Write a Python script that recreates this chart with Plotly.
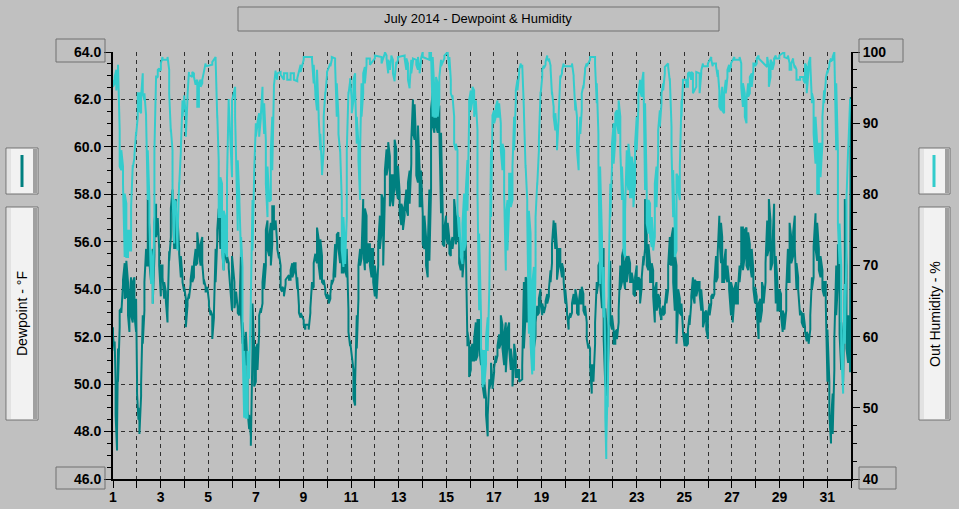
import plotly.graph_objects as go

# July 2014 readings: (day of month, low, high)
dew_readings = [
    (1.00, 52.0, 52.4), (1.07, 51.4, 51.8), (1.11, 48.7, 50.1), (1.17, 47.2, 48.0), (1.21, 50.1, 51.5),
    (1.28, 52.4, 53.1), (1.35, 53.0, 53.2), (1.42, 54.2, 54.4), (1.49, 53.6, 55.1), (1.56, 53.7, 55.2),
    (1.63, 52.9, 54.3), (1.69, 52.2, 53.6), (1.76, 52.9, 54.5), (1.83, 52.6, 54.3), (1.90, 52.9, 54.5),
    (1.97, 52.2, 53.6), (2.01, 49.6, 50.2), (2.07, 48.5, 49.0), (2.11, 47.9, 48.4), (2.18, 49.5, 50.0),
    (2.25, 51.7, 52.9), (2.32, 53.1, 54.3), (2.39, 55.0, 55.7), (2.46, 55.0, 57.8), (2.53, 55.1, 56.5),
    (2.60, 54.3, 55.1), (2.67, 53.4, 55.7), (2.74, 55.4, 56.8), (2.81, 56.2, 57.6), (2.88, 56.7, 57.0),
    (2.94, 55.0, 55.7), (3.01, 53.7, 55.0), (3.08, 54.5, 55.0), (3.15, 53.6, 54.3), (3.22, 53.5, 53.9),
    (3.29, 52.6, 53.0), (3.36, 55.2, 55.6), (3.43, 56.2, 57.4), (3.50, 57.8, 58.2), (3.57, 55.7, 57.4),
    (3.64, 55.7, 57.8), (3.71, 56.8, 57.0), (3.78, 55.5, 55.7), (3.85, 54.5, 55.4), (3.92, 54.3, 54.5),
    (3.99, 53.9, 54.1), (4.06, 52.4, 53.6), (4.13, 53.3, 53.5), (4.19, 53.6, 53.8), (4.26, 54.2, 54.4),
    (4.33, 54.3, 55.0), (4.40, 54.5, 55.1), (4.47, 55.0, 55.7), (4.54, 55.1, 56.4), (4.61, 55.5, 55.7),
    (4.68, 55.0, 55.9), (4.75, 55.1, 56.2), (4.82, 54.2, 54.4), (4.89, 53.9, 54.1), (4.96, 53.9, 54.1),
    (5.03, 53.3, 53.5), (5.10, 52.9, 53.1), (5.17, 51.9, 52.9), (5.24, 52.8, 53.0), (5.31, 54.3, 55.7),
    (5.38, 56.1, 56.5), (5.44, 57.1, 57.4), (5.51, 55.7, 57.1), (5.58, 55.8, 56.0), (5.65, 54.8, 55.7),
    (5.72, 55.4, 56.2), (5.79, 55.1, 55.4), (5.86, 54.9, 55.1), (6.00, 53.1, 55.4), (6.10, 53.2, 54.3),
    (6.17, 53.7, 53.9), (6.24, 53.0, 53.2), (6.31, 52.9, 53.1), (6.38, 52.9, 55.7), (6.44, 51.7, 52.6),
    (6.51, 50.9, 51.7), (6.58, 50.8, 52.2), (6.65, 48.9, 50.8), (6.72, 48.1, 48.7), (6.79, 47.4, 47.8),
    (6.86, 51.5, 53.4), (6.93, 49.9, 51.5), (7.00, 50.1, 51.5), (7.07, 50.6, 51.7), (7.14, 52.2, 52.9),
    (7.21, 53.0, 53.2), (7.28, 53.4, 54.3), (7.35, 54.0, 55.1), (7.42, 55.0, 56.5), (7.49, 55.7, 56.9),
    (7.56, 55.4, 56.2), (7.63, 55.0, 56.8), (7.69, 55.9, 57.5), (7.76, 56.5, 57.5), (7.83, 56.7, 56.9),
    (7.90, 55.7, 55.9), (7.97, 55.3, 55.5), (8.04, 54.0, 55.0), (8.11, 53.9, 54.1), (8.18, 53.7, 54.0),
    (8.25, 54.2, 54.4), (8.39, 54.4, 54.6), (8.46, 54.4, 54.8), (8.53, 54.5, 55.1), (8.60, 54.7, 55.1),
    (8.67, 54.9, 55.1), (8.74, 54.0, 54.5), (8.81, 53.0, 53.3), (8.88, 52.8, 53.0), (9.01, 52.5, 52.7),
    (9.08, 52.3, 52.5), (9.22, 52.3, 52.5), (9.29, 53.0, 53.2), (9.36, 54.0, 54.3), (9.43, 54.1, 55.1),
    (9.50, 55.3, 55.5), (9.57, 55.1, 56.6), (9.64, 55.0, 56.1), (9.71, 54.4, 56.1), (9.78, 54.3, 55.4),
    (9.85, 54.2, 54.4), (9.92, 53.8, 54.0), (9.99, 53.6, 53.8), (10.06, 53.4, 53.7), (10.13, 53.6, 53.8),
    (10.19, 54.2, 54.4), (10.26, 54.4, 54.6), (10.33, 54.5, 55.9), (10.40, 56.1, 56.3), (10.47, 55.7, 56.4),
    (10.54, 55.1, 56.2), (10.61, 54.7, 55.7), (10.68, 54.7, 55.1), (10.75, 54.8, 55.7), (10.82, 54.5, 55.7),
    (10.89, 52.2, 53.1), (10.96, 51.6, 51.8), (11.10, 49.4, 50.6), (11.17, 49.1, 50.1), (11.24, 51.5, 52.9),
    (11.31, 53.6, 55.0), (11.38, 55.0, 55.7), (11.44, 55.3, 55.5), (11.51, 55.7, 57.8), (11.58, 54.8, 57.4),
    (11.65, 55.1, 57.1), (11.72, 55.2, 55.9), (11.79, 55.0, 55.9), (11.86, 54.5, 55.7), (11.93, 54.3, 55.7),
    (12.00, 53.7, 55.0), (12.07, 53.6, 54.3), (12.14, 55.0, 55.9), (12.21, 55.7, 57.1), (12.28, 56.4, 58.0),
    (12.35, 55.0, 57.8), (12.42, 57.9, 59.0), (12.49, 58.8, 59.9), (12.56, 59.2, 60.2), (12.63, 57.5, 59.6),
    (12.69, 57.8, 58.8), (12.76, 57.5, 58.8), (12.83, 58.5, 60.3), (12.90, 58.2, 59.9), (12.97, 57.8, 59.2),
    (13.04, 57.2, 58.1), (13.11, 56.7, 57.6), (13.18, 56.5, 57.4), (13.25, 57.1, 57.5), (13.32, 57.4, 58.2),
    (13.39, 57.1, 58.5), (13.46, 57.6, 59.0), (13.53, 59.3, 60.3), (13.60, 60.6, 62.0), (13.67, 60.3, 61.8),
    (13.74, 58.8, 59.9), (13.81, 58.5, 60.9), (13.88, 57.5, 59.0), (13.94, 57.5, 59.0), (14.01, 55.9, 57.2),
    (14.08, 55.7, 57.1), (14.15, 55.0, 56.2), (14.22, 54.5, 55.7), (14.29, 55.2, 58.2), (14.36, 58.2, 61.6),
    (14.43, 60.9, 62.3), (14.50, 60.6, 61.7), (14.57, 60.9, 61.3), (14.64, 60.6, 61.7), (14.71, 60.6, 61.7),
    (14.78, 57.2, 60.6), (14.85, 55.9, 57.2), (14.92, 55.8, 56.6), (14.99, 56.2, 57.1), (15.06, 55.9, 56.8),
    (15.13, 55.5, 56.1), (15.19, 55.4, 55.9), (15.26, 55.7, 56.2), (15.33, 56.2, 57.8), (15.40, 55.9, 57.1),
    (15.47, 56.2, 57.1), (15.54, 55.1, 55.9), (15.61, 54.8, 55.4), (15.68, 54.5, 54.8), (15.75, 55.4, 56.2),
    (15.82, 55.8, 56.0), (15.89, 51.6, 52.2), (15.96, 50.3, 51.7), (16.03, 50.6, 51.5), (16.10, 51.0, 51.7),
    (16.17, 51.0, 51.9), (16.24, 51.0, 52.6), (16.31, 51.2, 52.7), (16.38, 51.6, 52.7), (16.46, 50.8, 51.5),
    (16.53, 49.9, 50.8), (16.60, 49.4, 50.1), (16.67, 48.7, 49.4), (16.74, 47.8, 48.7), (16.81, 49.8, 50.2),
    (16.88, 50.1, 50.9), (16.94, 49.8, 50.1), (17.01, 50.5, 50.7), (17.08, 50.9, 51.2), (17.15, 51.2, 51.6),
    (17.22, 51.5, 52.1), (17.29, 51.7, 52.9), (17.36, 51.5, 52.5), (17.43, 50.8, 52.1), (17.50, 50.5, 52.6),
    (17.57, 51.7, 52.3), (17.64, 51.5, 52.6), (17.71, 50.6, 51.5), (17.78, 49.9, 50.9), (17.85, 50.9, 51.7),
    (17.92, 50.3, 51.2), (17.99, 50.3, 50.6), (18.06, 50.1, 50.6), (18.19, 50.2, 50.8), (18.26, 51.5, 54.3),
    (18.33, 52.9, 54.5), (18.40, 52.6, 54.4), (18.47, 53.4, 54.5), (18.54, 52.9, 54.0), (18.61, 50.8, 52.2),
    (18.68, 51.5, 52.9), (18.75, 52.0, 52.6), (18.82, 52.9, 53.3), (18.89, 53.0, 53.6), (18.96, 53.4, 54.0),
    (19.03, 52.9, 53.4), (19.10, 53.0, 53.1), (19.17, 53.3, 53.5), (19.24, 53.4, 53.8), (19.31, 53.7, 54.0),
    (19.38, 54.3, 54.8), (19.44, 55.1, 55.9), (19.51, 56.6, 56.9), (19.58, 55.7, 56.8), (19.65, 54.4, 55.7),
    (19.72, 55.0, 55.7), (19.79, 55.0, 55.7), (19.86, 54.5, 55.1), (19.93, 54.3, 54.8), (20.00, 53.4, 54.0),
    (20.07, 53.0, 53.2), (20.14, 52.3, 52.7), (20.21, 52.8, 53.0), (20.28, 53.0, 53.4), (20.35, 53.4, 53.8),
    (20.42, 53.4, 54.0), (20.49, 53.0, 53.6), (20.56, 52.9, 53.4), (20.63, 53.4, 54.0), (20.69, 53.4, 54.1),
    (20.76, 53.1, 53.8), (20.83, 52.9, 53.3), (20.90, 51.9, 52.6), (20.97, 51.5, 51.7), (21.04, 50.8, 51.5),
    (21.11, 49.6, 50.8), (21.18, 50.1, 50.8), (21.25, 51.7, 52.6), (21.32, 53.8, 54.3), (21.39, 54.3, 55.0),
    (21.46, 54.3, 55.2), (21.54, 53.2, 55.7), (21.61, 51.9, 55.7), (21.68, 49.9, 53.2), (21.75, 49.5, 52.1),
    (21.82, 51.7, 53.3), (21.89, 52.6, 55.2), (21.96, 52.3, 52.9), (22.03, 51.7, 52.3), (22.10, 51.7, 52.2),
    (22.17, 51.9, 52.3), (22.24, 52.6, 53.1), (22.31, 54.0, 55.0), (22.38, 54.3, 55.4), (22.44, 54.5, 55.7),
    (22.51, 54.0, 55.1), (22.58, 54.3, 55.4), (22.65, 54.8, 55.4), (22.72, 54.3, 55.1), (22.79, 54.3, 54.7),
    (22.86, 53.8, 54.3), (22.93, 53.7, 54.5), (23.00, 54.0, 55.0), (23.07, 54.0, 54.5), (23.14, 53.4, 54.4),
    (23.21, 54.1, 54.5), (23.28, 55.0, 55.4), (23.35, 55.7, 57.8), (23.42, 55.0, 56.8), (23.49, 54.8, 55.9),
    (23.56, 54.3, 55.1), (23.63, 54.3, 55.1), (23.69, 53.7, 54.8), (23.76, 52.6, 54.0), (23.83, 53.1, 54.3),
    (23.90, 53.3, 53.8), (23.97, 53.0, 53.6), (24.04, 52.7, 53.1), (24.11, 52.9, 53.3), (24.18, 53.0, 53.3),
    (24.25, 53.4, 54.0), (24.32, 54.0, 55.0), (24.39, 55.1, 56.2), (24.46, 55.0, 56.2), (24.53, 54.3, 56.6),
    (24.60, 53.1, 55.5), (24.67, 51.7, 55.0), (24.74, 53.4, 54.0), (24.81, 53.0, 53.6), (24.88, 52.9, 53.4),
    (24.94, 52.2, 52.3), (25.01, 51.6, 52.1), (25.08, 51.6, 52.1), (25.15, 51.7, 52.3), (25.22, 52.5, 52.9),
    (25.29, 53.4, 53.7), (25.36, 53.7, 54.5), (25.43, 53.4, 54.4), (25.50, 53.7, 54.3), (25.57, 54.0, 54.3),
    (25.64, 53.8, 54.3), (25.71, 53.1, 54.0), (25.78, 52.4, 53.1), (25.85, 52.7, 53.0), (25.92, 52.3, 53.1),
    (25.99, 51.9, 52.9), (26.06, 52.9, 53.4), (26.13, 53.4, 53.7), (26.19, 53.6, 53.8), (26.26, 53.8, 54.3),
    (26.33, 54.3, 55.4), (26.40, 54.5, 55.5), (26.47, 56.2, 57.1), (26.54, 55.1, 56.8), (26.59, 54.3, 56.2),
    (26.67, 54.3, 55.2), (26.74, 54.5, 55.7), (26.81, 54.3, 55.0), (26.88, 54.0, 54.3), (26.96, 52.9, 54.3),
    (27.03, 52.6, 54.0), (27.10, 53.6, 54.0), (27.17, 53.4, 54.3), (27.25, 53.4, 54.0), (27.32, 54.3, 55.0),
    (27.39, 55.1, 56.6), (27.46, 54.8, 56.6), (27.54, 55.4, 56.5), (27.61, 55.0, 56.6), (27.68, 54.8, 56.4),
    (27.75, 55.1, 55.9), (27.83, 54.5, 55.7), (27.90, 54.0, 54.8), (27.97, 53.4, 54.1), (28.04, 53.0, 53.7),
    (28.12, 51.9, 53.4), (28.19, 52.6, 53.6), (28.26, 53.1, 54.3), (28.33, 53.4, 54.0), (28.41, 54.3, 55.1),
    (28.48, 55.4, 56.9), (28.55, 55.7, 57.8), (28.62, 54.8, 56.9), (28.70, 55.1, 55.9), (28.77, 56.2, 57.6),
    (28.84, 53.4, 55.4), (28.91, 53.1, 54.3), (28.99, 53.1, 54.0), (29.06, 52.9, 53.8), (29.13, 52.2, 53.1),
    (29.20, 52.3, 52.9), (29.28, 53.1, 54.0), (29.35, 54.3, 55.7), (29.42, 54.3, 56.8), (29.49, 55.1, 56.2),
    (29.57, 55.4, 56.4), (29.64, 55.7, 57.1), (29.71, 54.0, 55.1), (29.78, 54.0, 54.5), (29.86, 52.9, 53.1),
    (29.93, 52.6, 53.0), (30.00, 52.4, 53.0), (30.07, 52.2, 52.4), (30.14, 51.8, 52.2), (30.22, 51.7, 52.0),
    (30.29, 52.3, 52.9), (30.36, 54.0, 54.5), (30.43, 54.5, 55.8), (30.51, 55.7, 57.2), (30.58, 55.2, 56.8),
    (30.65, 54.8, 55.7), (30.72, 54.5, 55.4), (30.80, 54.0, 54.8), (30.87, 53.7, 54.3), (30.94, 53.4, 54.3),
    (31.01, 50.1, 52.3), (31.09, 48.7, 50.1), (31.16, 47.5, 48.4), (31.23, 47.9, 49.6), (31.30, 50.6, 51.9),
    (31.38, 52.9, 55.0), (31.45, 54.3, 55.9), (31.52, 52.1, 55.4), (31.59, 50.6, 52.6), (31.67, 50.1, 51.7),
    (31.74, 54.3, 57.8), (31.81, 51.5, 55.0), (31.88, 50.9, 52.9), (31.96, 50.5, 51.8), (31.99, 61.9, 62.1),
]

hum_readings = [
    (1.00, 95.1, 96.1), (1.07, 95.6, 96.5), (1.14, 94.6, 97.5), (1.21, 97.5, 98.2), (1.28, 83.9, 89.0),
    (1.35, 83.4, 86.2), (1.42, 81.5, 83.9), (1.49, 71.2, 80.1), (1.56, 71.2, 78.7), (1.63, 71.2, 74.9),
    (1.69, 72.1, 74.9), (1.76, 72.1, 78.2), (1.83, 83.7, 84.1), (1.90, 85.1, 85.5), (1.97, 88.3, 88.7),
    (2.04, 90.9, 94.2), (2.11, 91.8, 94.2), (2.18, 91.4, 93.7), (2.25, 94.2, 97.0), (2.32, 93.2, 94.2),
    (2.39, 90.7, 91.1), (2.46, 79.2, 86.2), (2.53, 75.9, 79.2), (2.60, 67.4, 72.1), (2.67, 64.6, 69.8),
    (2.74, 76.8, 86.2), (2.81, 96.3, 96.7), (2.88, 96.5, 97.5), (2.94, 97.3, 97.7), (3.01, 97.5, 98.4),
    (3.08, 98.9, 99.3), (3.29, 98.9, 99.3), (3.36, 94.2, 97.5), (3.43, 88.8, 89.2), (3.50, 80.1, 86.2),
    (3.57, 73.1, 79.2), (3.64, 78.5, 78.9), (3.71, 72.1, 74.0), (3.78, 81.3, 81.7), (3.85, 86.0, 86.4),
    (3.92, 90.9, 93.2), (3.99, 93.5, 93.9), (4.06, 88.1, 90.9), (4.13, 93.5, 93.9), (4.19, 96.8, 97.2),
    (4.33, 96.5, 97.2), (4.40, 96.5, 97.0), (4.47, 95.4, 95.8), (4.54, 92.3, 96.1), (4.61, 92.3, 95.6),
    (4.68, 95.1, 96.1), (4.75, 95.6, 96.1), (4.89, 98.0, 98.4), (5.17, 98.2, 98.6), (5.31, 98.9, 99.3),
    (5.38, 90.7, 91.1), (5.44, 76.8, 84.8), (5.51, 76.8, 82.4), (5.58, 72.1, 81.5), (5.65, 69.3, 77.7),
    (5.72, 72.1, 76.8), (5.79, 71.2, 82.4), (5.86, 93.0, 93.4), (6.00, 82.4, 93.2), (6.13, 90.9, 95.1),
    (6.24, 74.9, 84.8), (6.31, 79.0, 79.4), (6.38, 71.2, 74.0), (6.44, 59.0, 69.8), (6.51, 48.6, 58.0),
    (6.58, 48.6, 53.3), (6.65, 48.6, 58.0), (6.72, 54.1, 54.5), (6.79, 64.9, 65.3), (6.86, 72.1, 79.2),
    (6.93, 82.7, 83.1), (7.00, 88.1, 90.0), (7.07, 89.8, 90.2), (7.14, 88.1, 91.4), (7.21, 90.7, 91.1),
    (7.28, 93.2, 95.1), (7.35, 88.5, 92.8), (7.42, 81.5, 87.6), (7.49, 76.8, 83.9), (7.56, 79.0, 79.4),
    (7.63, 79.2, 86.2), (7.69, 83.4, 90.9), (7.76, 94.9, 95.3), (7.83, 97.0, 97.4), (7.90, 96.1, 97.0),
    (8.04, 96.8, 97.2), (8.18, 96.1, 97.0), (8.32, 96.1, 97.0), (8.46, 96.1, 97.0), (8.60, 96.1, 97.0),
    (8.74, 95.9, 96.3), (8.88, 97.2, 98.2), (9.01, 98.9, 99.3), (9.36, 98.9, 99.3), (9.43, 95.6, 98.2),
    (9.50, 94.0, 94.4), (9.57, 91.8, 97.5), (9.64, 90.7, 91.1), (9.71, 86.2, 88.5), (9.78, 82.7, 83.1),
    (9.85, 86.2, 90.9), (9.92, 94.0, 94.4), (9.99, 96.8, 97.2), (10.13, 98.0, 98.4), (10.19, 98.9, 99.3),
    (10.33, 98.2, 99.1), (10.40, 90.9, 95.6), (10.47, 88.5, 90.9), (10.54, 86.0, 86.4), (10.61, 72.1, 79.2),
    (10.68, 69.8, 76.8), (10.75, 70.2, 72.1), (10.82, 76.8, 86.2), (10.89, 94.0, 94.4), (10.96, 95.9, 96.3),
    (11.03, 91.4, 93.2), (11.10, 93.2, 96.1), (11.17, 94.6, 97.0), (11.24, 87.1, 90.9), (11.31, 84.8, 87.1),
    (11.38, 79.2, 86.2), (11.44, 90.9, 95.6), (11.51, 94.2, 97.0), (11.58, 95.6, 97.9), (11.65, 98.2, 99.1),
    (11.79, 98.2, 99.1), (12.00, 99.1, 99.5), (12.28, 98.4, 99.3), (12.42, 99.8, 100.0), (12.49, 99.1, 99.5),
    (12.56, 97.0, 98.9), (12.63, 97.5, 98.4), (12.69, 99.1, 99.5), (12.76, 97.0, 98.9), (12.83, 95.9, 96.3),
    (12.90, 98.2, 98.6), (12.97, 98.9, 99.3), (13.25, 99.1, 99.5), (13.32, 97.5, 99.1), (13.39, 96.1, 98.4),
    (13.46, 94.9, 95.3), (13.53, 97.0, 98.9), (13.60, 98.7, 99.1), (13.74, 98.2, 98.9), (13.81, 97.5, 99.3),
    (13.88, 97.0, 97.4), (13.94, 98.7, 99.1), (14.01, 99.3, 100.0), (14.29, 98.9, 100.0), (14.36, 99.8, 100.0),
    (14.43, 90.9, 99.3), (14.50, 90.9, 94.6), (14.57, 90.9, 96.5), (14.64, 90.9, 95.6), (14.71, 93.2, 96.5),
    (14.78, 98.0, 98.9), (14.92, 99.1, 99.5), (15.06, 99.8, 100.0), (15.13, 97.5, 99.3), (15.19, 94.2, 96.1),
    (15.26, 93.5, 93.9), (15.33, 87.1, 90.9), (15.40, 86.2, 87.1), (15.47, 77.7, 86.2), (15.54, 74.0, 76.8),
    (15.61, 71.2, 72.1), (15.68, 70.2, 75.9), (15.75, 72.1, 80.1), (15.82, 73.1, 80.6), (15.89, 77.7, 84.8),
    (15.96, 90.9, 93.2), (16.03, 91.8, 94.6), (16.10, 93.2, 95.1), (16.17, 90.9, 94.6), (16.24, 92.8, 93.2),
    (16.31, 80.1, 89.0), (16.38, 63.7, 74.5), (16.46, 58.0, 62.7), (16.53, 52.9, 58.0), (16.60, 53.3, 58.0),
    (16.67, 56.2, 59.9), (16.74, 58.0, 62.7), (16.81, 67.2, 67.6), (16.88, 76.8, 86.2), (16.94, 90.7, 91.1),
    (17.01, 90.0, 91.8), (17.08, 90.9, 92.3), (17.15, 90.9, 93.2), (17.22, 90.9, 92.8), (17.29, 86.2, 90.0),
    (17.36, 83.4, 87.1), (17.43, 80.1, 86.2), (17.50, 69.3, 76.8), (17.57, 72.1, 79.2), (17.64, 78.2, 82.9),
    (17.71, 78.2, 82.9), (17.78, 79.2, 83.9), (17.85, 86.2, 90.9), (17.92, 93.2, 94.6), (17.99, 94.6, 96.1),
    (18.06, 97.0, 97.5), (18.13, 98.0, 98.4), (18.19, 97.9, 98.2), (18.26, 91.6, 92.0), (18.33, 83.7, 84.1),
    (18.40, 76.8, 79.2), (18.47, 60.4, 77.7), (18.54, 59.0, 74.5), (18.61, 54.7, 67.4), (18.68, 55.2, 69.8),
    (18.75, 69.8, 76.8), (18.82, 81.3, 81.7), (18.89, 86.2, 87.6), (18.96, 94.0, 94.4), (19.03, 96.5, 97.5),
    (19.10, 97.7, 98.1), (19.17, 98.2, 98.6), (19.24, 99.1, 99.5), (19.31, 98.7, 99.1), (19.38, 97.7, 98.1),
    (19.44, 94.0, 94.4), (19.51, 90.9, 92.3), (19.58, 89.0, 91.4), (19.65, 86.2, 88.5), (19.72, 90.7, 91.1),
    (19.79, 96.3, 96.7), (19.86, 97.0, 97.4), (19.93, 98.0, 98.4), (20.28, 98.0, 98.4), (20.35, 96.3, 96.7),
    (20.42, 91.8, 93.2), (20.49, 86.2, 90.9), (20.56, 83.4, 87.1), (20.63, 88.5, 90.9), (20.69, 91.8, 94.2),
    (20.76, 94.9, 95.3), (20.83, 97.3, 97.7), (20.90, 98.0, 98.4), (21.04, 98.9, 99.3), (21.25, 98.2, 99.3),
    (21.32, 92.8, 95.6), (21.39, 84.8, 88.5), (21.46, 67.4, 83.9), (21.54, 70.0, 74.0), (21.61, 62.7, 69.8),
    (21.68, 48.6, 58.0), (21.72, 42.8, 45.0), (21.78, 50.1, 53.3), (21.82, 62.7, 67.4), (21.89, 76.8, 81.5),
    (21.96, 83.9, 87.1), (22.03, 84.3, 90.0), (22.10, 87.6, 91.4), (22.17, 90.0, 91.8), (22.24, 88.5, 93.2),
    (22.31, 86.2, 90.9), (22.38, 79.2, 83.9), (22.44, 72.1, 79.2), (22.51, 71.2, 77.7), (22.58, 82.4, 86.2),
    (22.65, 80.6, 87.1), (22.72, 79.6, 84.8), (22.79, 79.6, 85.3), (22.86, 78.2, 83.9), (22.93, 81.5, 87.1),
    (23.00, 86.2, 90.9), (23.07, 92.3, 94.2), (23.14, 94.6, 96.1), (23.21, 93.7, 95.6), (23.28, 96.8, 97.2),
    (23.35, 80.6, 92.8), (23.42, 75.9, 80.6), (23.49, 74.5, 79.2), (23.56, 74.0, 78.7), (23.63, 72.6, 76.8),
    (23.69, 72.1, 74.0), (23.76, 74.0, 81.5), (23.83, 78.2, 83.9), (23.90, 85.7, 89.0), (23.97, 89.5, 91.8),
    (24.04, 92.8, 94.2), (24.11, 94.6, 95.6), (24.18, 97.0, 97.9), (24.32, 97.9, 98.4), (24.39, 95.9, 96.3),
    (24.46, 86.2, 89.5), (24.53, 76.8, 83.4), (24.60, 71.2, 74.9), (24.67, 72.1, 82.9), (24.74, 80.6, 82.4),
    (24.81, 79.2, 83.9), (24.88, 90.9, 93.2), (24.94, 95.6, 96.1), (25.08, 95.1, 96.1), (25.15, 95.1, 97.0),
    (25.22, 96.8, 97.2), (25.29, 96.1, 97.2), (25.36, 94.2, 97.0), (25.50, 95.1, 97.2), (25.64, 94.2, 97.0),
    (25.71, 97.0, 97.4), (25.78, 98.0, 98.4), (25.99, 98.0, 98.4), (26.13, 98.9, 99.3), (26.19, 98.0, 98.4),
    (26.33, 98.0, 98.4), (26.40, 96.5, 97.5), (26.47, 92.3, 94.6), (26.54, 91.8, 93.2), (26.59, 91.8, 95.1),
    (26.67, 91.4, 94.2), (26.74, 94.2, 96.1), (26.81, 96.5, 97.5), (26.88, 97.2, 98.2), (26.96, 98.0, 98.4),
    (27.10, 98.9, 99.3), (27.32, 98.9, 99.3), (27.39, 95.1, 98.4), (27.46, 92.3, 95.6), (27.54, 90.9, 94.2),
    (27.61, 90.0, 93.2), (27.68, 93.7, 95.6), (27.75, 94.2, 96.5), (27.83, 95.1, 97.0), (27.90, 97.5, 98.4),
    (27.97, 98.0, 98.4), (28.04, 98.4, 99.1), (28.12, 99.1, 99.5), (28.48, 97.9, 99.3), (28.55, 95.1, 97.9),
    (28.62, 96.5, 98.9), (28.70, 97.5, 98.4), (28.77, 98.4, 99.1), (28.84, 99.1, 99.5), (28.99, 99.1, 99.5),
    (29.20, 99.3, 100.0), (29.35, 99.1, 99.5), (29.42, 97.5, 98.4), (29.49, 97.5, 98.4), (29.57, 98.7, 99.1),
    (29.64, 97.7, 98.1), (29.71, 96.1, 97.5), (29.86, 96.1, 96.5), (30.00, 96.1, 96.5), (30.07, 95.6, 98.4),
    (30.14, 94.2, 97.9), (30.22, 97.5, 98.4), (30.29, 98.4, 99.3), (30.36, 92.8, 94.2), (30.43, 88.5, 93.2),
    (30.51, 84.3, 90.9), (30.58, 80.1, 87.1), (30.65, 80.1, 87.1), (30.72, 82.4, 87.1), (30.80, 87.1, 90.9),
    (30.87, 92.8, 94.6), (30.94, 95.9, 96.3), (31.01, 97.0, 97.4), (31.09, 98.0, 98.4), (31.16, 98.7, 99.1),
    (31.23, 98.9, 99.3), (31.30, 99.8, 100.0), (31.38, 86.2, 95.6), (31.45, 75.9, 86.2), (31.52, 70.2, 75.9),
    (31.59, 58.0, 69.8), (31.67, 52.0, 58.0), (31.74, 59.0, 67.4), (31.81, 72.1, 79.2), (31.88, 86.0, 86.4),
    (31.96, 93.0, 93.4),
]

days = list(range(1, 33))
day_labels = [str(d) if d % 2 == 1 else "" for d in days]
dew_ticks = [46, 48, 50, 52, 54, 56, 58, 60, 62, 64]
hum_ticks = [40, 50, 60, 70, 80, 90, 100]

DEW_COLOR = "#008080"
HUM_COLOR = "#33cccc"
BG = "#c0c0c0"
BOX = "#707070"

W, H = 959, 509
L, R, T, B = 113, 851, 52, 479


def zigzag(readings):
    # each reading is drawn as a short vertical stroke low->high, alternating direction
    xs, ys = [], []
    for i, (d, lo, hi) in enumerate(readings):
        xs += [d, d]
        ys += [hi, lo] if i % 2 == 0 else [lo, hi]
    return xs, ys


def px(x):
    return (x - L) / (R - L)


def py(y):
    return (B - y) / (B - T)


fig = go.Figure()
dx, dy = zigzag(dew_readings)
hx, hy = zigzag(hum_readings)
fig.add_trace(go.Scatter(x=dx, y=dy, mode="lines", line=dict(color=DEW_COLOR, width=2), name="Dewpoint"))
fig.add_trace(go.Scatter(x=hx, y=hy, mode="lines", line=dict(color=HUM_COLOR, width=2), name="Out Humidity", yaxis="y2"))

tickfont = dict(family="Liberation Sans", size=14, color="black", weight="bold")

fig.update_layout(
    width=W, height=H, autosize=False,
    margin=dict(l=L, r=W - R, t=T, b=H - B),
    paper_bgcolor=BG, plot_bgcolor=BG,
    showlegend=False,
    xaxis=dict(range=[1, 32], tickvals=days, ticktext=day_labels, ticks="outside", ticklen=7,
               tickcolor="black", tickwidth=1, showline=True, linecolor="black", linewidth=2,
               showgrid=True, gridcolor="#303030", gridwidth=1, griddash="4px,4px",
               zeroline=False, tickfont=tickfont, automargin=False, ticklabelstandoff=-3),
    yaxis=dict(range=[46, 64], tickvals=dew_ticks, ticktext=["%.1f" % v for v in dew_ticks],
               ticks="outside", ticklen=7, tickcolor="black", showline=True, linecolor="black",
               linewidth=2, showgrid=True, gridcolor="#303030", gridwidth=1, griddash="4px,4px",
               zeroline=False, tickfont=tickfont, automargin=False,
               minor=dict(dtick=0.5, tick0=46, ticks="outside", ticklen=4, tickcolor="black", showgrid=False)),
    yaxis2=dict(range=[40, 100], overlaying="y", side="right", tickvals=hum_ticks,
                ticks="outside", ticklen=7, tickcolor="black", showline=True, linecolor="black",
                linewidth=2, showgrid=False, zeroline=False, tickfont=tickfont, automargin=False,
                minor=dict(dtick=2.5, tick0=40, ticks="outside", ticklen=4, tickcolor="black")),
)

shapes = []


def box(x0, y0, x1, y1, fill="rgba(0,0,0,0)"):
    shapes.append(dict(type="rect", xref="paper", yref="paper", x0=px(x0), x1=px(x1), y0=py(y1), y1=py(y0),
                       line=dict(color=BOX, width=1), fillcolor=fill, layer="above"))


def panel(x0, y0, x1, y1):
    box(x0, y0, x1, y1, "#f2f2f2")
    shapes.append(dict(type="rect", xref="paper", yref="paper", x0=px(x0 + 1), x1=px(x0 + 5),
                       y0=py(y1 - 1), y1=py(y0 + 1), line=dict(width=0), fillcolor="#e2e2e2"))
    shapes.append(dict(type="rect", xref="paper", yref="paper", x0=px(x1 - 5), x1=px(x1 - 1),
                       y0=py(y1 - 1), y1=py(y0 + 1), line=dict(width=0), fillcolor="#a0a0a0"))


# title and value boxes
box(238, 7, 719, 31)
box(56, 39, 105, 62)
box(56, 467, 105, 489)
box(859, 39, 903, 62)
box(859, 467, 896, 489)

# legend panels
panel(6, 148, 38, 194)
panel(6, 207, 38, 420)
panel(919, 148, 950, 194)
panel(919, 207, 950, 420)
shapes.append(dict(type="line", xref="paper", yref="paper", x0=px(22), x1=px(22), y0=py(155), y1=py(187),
                   line=dict(color=DEW_COLOR, width=3)))
shapes.append(dict(type="line", xref="paper", yref="paper", x0=px(934), x1=px(934), y0=py(155), y1=py(187),
                   line=dict(color=HUM_COLOR, width=3)))
fig.update_layout(shapes=shapes)

txt = dict(family="Liberation Sans", color="black")
label = dict(xref="paper", yref="paper", showarrow=False, xanchor="center", yanchor="middle")
fig.add_annotation(x=px(478), y=py(19), text="July 2014 - Dewpoint & Humidity",
                   font=dict(size=13, **txt), **label)
fig.add_annotation(x=px(22), y=py(314), textangle=-90, text="Dewpoint - °F",
                   font=dict(size=14, **txt), **label)
fig.add_annotation(x=px(935), y=py(314), textangle=-90, text="Out Humidity - %",
                   font=dict(size=14, **txt), **label)

# page body margin would push the figure off its 959x509 frame
fig.write_html("out.html", config={"displayModeBar": False},
               post_script="document.body.style.margin='0';")
